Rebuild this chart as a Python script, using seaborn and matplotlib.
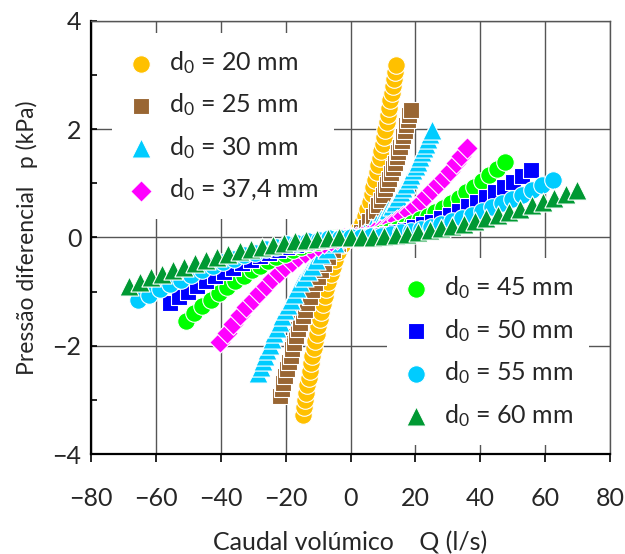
import numpy as np
import pandas as pd
import seaborn as sns
import matplotlib.pyplot as plt
from matplotlib.ticker import MultipleLocator

# valores: caudal Q (l/s) e pressão diferencial p (kPa)
q_20 = [-14.70, -14.36, -14.01, -13.65, -13.28, -12.91, -12.53, -12.14, -11.74, -11.32, -10.90, -10.46,
        -10.00, -9.53, -9.04, -8.52, -7.98, -7.41, -6.80, -6.15, -5.43, -4.63, -3.70, -2.52, 0.0,
        2.40, 3.52, 4.41, 5.17, 5.86, 6.48, 7.06, 7.60, 8.12, 8.61, 9.07, 9.53,
        9.96, 10.38, 10.78, 11.18, 11.56, 11.93, 12.30, 12.65, 13.00, 13.34, 13.67, 14.00]
p_20 = [-3.28, -3.14, -3.01, -2.87, -2.73, -2.60, -2.46, -2.32, -2.19, -2.05, -1.91, -1.78,
        -1.64, -1.50, -1.37, -1.23, -1.09, -0.96, -0.82, -0.68, -0.55, -0.41, -0.27, -0.14, 0.0,
        0.13, 0.27, 0.40, 0.53, 0.66, 0.80, 0.93, 1.06, 1.20, 1.33, 1.46, 1.60,
        1.73, 1.86, 1.99, 2.13, 2.26, 2.39, 2.53, 2.66, 2.79, 2.92, 3.06, 3.19]

q_25 = [-21.70, -21.19, -20.68, -20.15, -19.61, -19.06, -18.49, -17.92, -17.32, -16.71, -16.08, -15.44,
        -14.76, -14.07, -13.34, -12.58, -11.79, -10.94, -10.05, -9.08, -8.02, -6.84, -5.46, -3.71, 0.0,
        3.17, 4.65, 5.83, 6.84, 7.74, 8.56, 9.33, 10.05, 10.73, 11.37, 11.99, 12.59,
        13.16, 13.71, 14.25, 14.77, 15.27, 15.77, 16.25, 16.72, 17.18, 17.63, 18.07, 18.50]
p_25 = [-2.92, -2.80, -2.68, -2.56, -2.43, -2.31, -2.19, -2.07, -1.95, -1.83, -1.70, -1.58,
        -1.46, -1.34, -1.22, -1.10, -0.97, -0.85, -0.73, -0.61, -0.49, -0.37, -0.24, -0.12, 0.0,
        0.10, 0.20, 0.30, 0.39, 0.49, 0.59, 0.69, 0.79, 0.89, 0.98, 1.08, 1.18,
        1.28, 1.38, 1.48, 1.57, 1.67, 1.77, 1.87, 1.97, 2.07, 2.16, 2.26, 2.36]

q_30 = [-28.40, -27.74, -27.06, -26.37, -25.67, -24.94, -24.21, -23.45, -22.67, -21.87, -21.05, -20.20,
        -19.32, -18.41, -17.46, -16.47, -15.42, -14.32, -13.15, -11.88, -10.49, -8.95, -7.14, -4.86, 0.0,
        4.31, 6.34, 7.94, 9.31, 10.54, 11.67, 12.71, 13.69, 14.61, 15.49, 16.33, 17.15,
        17.93, 18.68, 19.41, 20.12, 20.81, 21.48, 22.13, 22.77, 23.40, 24.01, 24.61, 25.20]
p_30 = [-2.50, -2.40, -2.29, -2.19, -2.08, -1.98, -1.88, -1.77, -1.67, -1.56, -1.46, -1.35,
        -1.25, -1.15, -1.04, -0.94, -0.83, -0.73, -0.63, -0.52, -0.42, -0.31, -0.21, -0.10, 0.0,
        0.08, 0.17, 0.25, 0.33, 0.41, 0.50, 0.58, 0.66, 0.74, 0.83, 0.91, 0.99,
        1.07, 1.16, 1.24, 1.32, 1.40, 1.49, 1.57, 1.65, 1.73, 1.82, 1.90, 1.98]

q_374 = [-40.20, -38.19, -36.18, -34.17, -32.16, -30.15, -28.14, -26.13, -24.12, -22.11,
         -20.10, -18.09, -16.08, -14.07, -12.06, -10.05, -8.04, -6.03, -4.02, -2.01, 0.0,
         1.80, 3.60, 5.40, 7.20, 9.00, 10.80, 12.60, 14.40, 16.20, 18.00,
         19.80, 21.60, 23.40, 25.20, 27.00, 28.80, 30.60, 32.40, 34.20, 36.00]
p_374 = [-1.93, -1.76, -1.60, -1.44, -1.29, -1.15, -1.02, -0.89, -0.77, -0.66,
         -0.55, -0.46, -0.37, -0.29, -0.22, -0.16, -0.11, -0.06, -0.03, -0.01, 0.0,
         0.01, 0.03, 0.05, 0.09, 0.14, 0.19, 0.25, 0.32, 0.39, 0.47,
         0.56, 0.66, 0.76, 0.87, 0.98, 1.10, 1.23, 1.37, 1.50, 1.65]

q_45 = [-50.70, -48.17, -45.63, -43.10, -40.56, -38.03, -35.49, -32.96, -30.42, -27.89,
        -25.35, -22.82, -20.28, -17.75, -15.21, -12.68, -10.14, -7.61, -5.07, -2.54, 0.0,
        2.38, 4.76, 7.14, 9.52, 11.90, 14.28, 16.66, 19.04, 21.42, 23.80,
        26.18, 28.56, 30.94, 33.32, 35.70, 38.08, 40.46, 42.84, 45.22, 47.60]
p_45 = [-1.54, -1.40, -1.27, -1.15, -1.03, -0.92, -0.81, -0.71, -0.61, -0.52,
        -0.44, -0.37, -0.30, -0.23, -0.18, -0.13, -0.09, -0.05, -0.02, -0.01, 0.0,
        0.01, 0.02, 0.05, 0.08, 0.11, 0.16, 0.21, 0.27, 0.33, 0.40,
        0.47, 0.55, 0.64, 0.73, 0.83, 0.93, 1.04, 1.15, 1.27, 1.39]

q_50 = [-55.60, -52.82, -50.04, -47.26, -44.48, -41.70, -38.92, -36.14, -33.36, -30.58,
        -27.80, -25.02, -22.24, -19.46, -16.68, -13.90, -11.12, -8.34, -5.56, -2.78, 0.0,
        2.78, 5.56, 8.34, 11.12, 13.90, 16.68, 19.46, 22.24, 25.02, 27.80,
        30.58, 33.36, 36.14, 38.92, 41.70, 44.48, 47.26, 50.04, 52.82, 55.60]
p_50 = [-1.21, -1.10, -1.00, -0.90, -0.81, -0.72, -0.64, -0.56, -0.48, -0.41,
        -0.35, -0.29, -0.23, -0.18, -0.14, -0.10, -0.07, -0.04, -0.02, -0.01, 0.0,
        0.01, 0.02, 0.04, 0.07, 0.10, 0.14, 0.19, 0.24, 0.29, 0.36,
        0.42, 0.49, 0.57, 0.65, 0.74, 0.83, 0.93, 1.03, 1.13, 1.24]

q_55 = [-65.40, -62.13, -58.86, -55.59, -52.32, -49.05, -45.78, -42.51, -39.24, -35.97,
        -32.70, -29.43, -26.16, -22.89, -19.62, -16.35, -13.08, -9.81, -6.54, -3.27, 0.0,
        3.12, 6.23, 9.35, 12.46, 15.58, 18.69, 21.81, 24.92, 28.04, 31.15,
        34.27, 37.38, 40.50, 43.61, 46.73, 49.84, 52.96, 56.07, 59.19, 62.30]
p_55 = [-1.16, -1.06, -0.96, -0.87, -0.78, -0.69, -0.61, -0.53, -0.46, -0.40,
        -0.33, -0.28, -0.22, -0.18, -0.13, -0.10, -0.06, -0.04, -0.02, -0.01, 0.0,
        0.00, 0.02, 0.03, 0.06, 0.09, 0.12, 0.16, 0.20, 0.25, 0.30,
        0.36, 0.42, 0.49, 0.56, 0.63, 0.71, 0.79, 0.88, 0.97, 1.06]

q_60 = [-68.40, -64.98, -61.56, -58.14, -54.72, -51.30, -47.88, -44.46, -41.04, -37.62,
        -34.20, -30.78, -27.36, -23.94, -20.52, -17.10, -13.68, -10.26, -6.84, -3.42, 0.0,
        3.49, 6.98, 10.47, 13.96, 17.45, 20.94, 24.43, 27.92, 31.41, 34.90,
        38.39, 41.88, 45.37, 48.86, 52.35, 55.84, 59.33, 62.82, 66.31, 69.80]
p_60 = [-0.90, -0.82, -0.74, -0.67, -0.60, -0.54, -0.47, -0.41, -0.36, -0.31,
        -0.26, -0.21, -0.17, -0.14, -0.10, -0.07, -0.05, -0.03, -0.01, -0.00, 0.0,
        0.00, 0.01, 0.03, 0.05, 0.07, 0.10, 0.13, 0.17, 0.21, 0.25,
        0.30, 0.35, 0.41, 0.46, 0.52, 0.59, 0.66, 0.73, 0.80, 0.88]

rotulos = ["d$_0$ = 20 mm", "d$_0$ = 25 mm", "d$_0$ = 30 mm", "d$_0$ = 37,4 mm",
           "d$_0$ = 45 mm", "d$_0$ = 50 mm", "d$_0$ = 55 mm", "d$_0$ = 60 mm"]
series = [(q_20, p_20), (q_25, p_25), (q_30, p_30), (q_374, p_374),
          (q_45, p_45), (q_50, p_50), (q_55, p_55), (q_60, p_60)]

# estilo de cada série
cores = ["#FFC000", "#996633", "#00CCFF", "#FF00FF", "#00FF00", "#0000FF", "#00CCFF", "#009933"]
marcadores = ["o", "s", "^", "D", "o", "s", "o", "^"]
tamanhos = [160, 135, 190, 120, 160, 135, 160, 190]

sns.set_theme(style="white")
plt.rcParams["font.family"] = ["Lato", "DejaVu Sans"]
plt.rcParams["mathtext.fontset"] = "custom"
plt.rcParams["mathtext.rm"] = "Lato"
plt.rcParams["mathtext.it"] = "Lato:italic"

fig, ax = plt.subplots(figsize=(6.25, 5.54), dpi=100)
fig.subplots_adjust(left=0.1456, right=0.976, bottom=0.1805, top=0.9626)

for (q, p), lab, c, m, s in zip(series, rotulos, cores, marcadores, tamanhos):
    sns.scatterplot(x=q, y=p, ax=ax, marker=m, color=c, s=s, edgecolor="white",
                    linewidth=0.8, label=lab, legend=False, zorder=2)

cinza = "#555555"
ax.set_xlim(-80, 80)
ax.set_ylim(-4, 4)
ax.set_xticks(range(-80, 81, 20))
ax.set_yticks([-4, -2, 0, 2, 4])
ax.yaxis.set_minor_locator(MultipleLocator(1))
ax.grid(True, which="major", color=cinza, lw=1.0)
ax.set_axisbelow(True)
for lado in ["top", "right"]:
    ax.spines[lado].set_color(cinza)
    ax.spines[lado].set_linewidth(1.0)
for lado in ["left", "bottom"]:
    ax.spines[lado].set_color("black")
    ax.spines[lado].set_linewidth(1.6)

ax.tick_params(axis="x", which="major", direction="out", length=6, width=1.2,
               pad=18, labelsize=18, color="black", bottom=True)
ax.tick_params(axis="y", which="both", direction="in", length=4, width=1.2,
               pad=7, labelsize=18, color="black", left=True)

ax.set_xlabel("Caudal volúmico    Q (l/s)", fontsize=18)
ax.set_ylabel("Pressão diferencial   p (kPa)", fontsize=16.5)
ax.xaxis.set_label_coords(0.5, -0.205)
ax.xaxis.label.set_va("center")
ax.yaxis.set_label_coords(-0.123, 0.5)
ax.yaxis.label.set_va("center")

h, l = ax.get_legend_handles_labels()
estilo_leg = dict(frameon=True, facecolor="white", edgecolor="none", framealpha=1,
                  fancybox=False, fontsize=18, handlelength=1.0, handletextpad=0.62,
                  labelspacing=0.62, borderaxespad=0, borderpad=0.65)
leg1 = ax.legend(h[:4], l[:4], loc="upper left", bbox_to_anchor=(0.040, 0.972), **estilo_leg)
ax.add_artist(leg1)
leg2 = ax.legend(h[4:], l[4:], loc="lower left", bbox_to_anchor=(0.570, 0.021), **estilo_leg)

plt.savefig("out.png", dpi=100)
